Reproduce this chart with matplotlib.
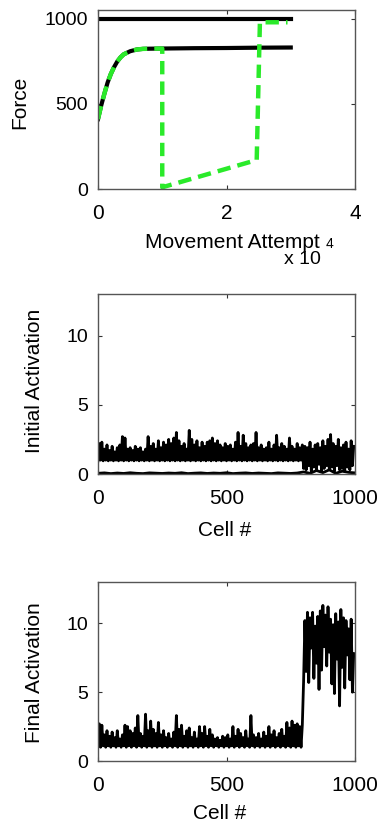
import numpy as np
import matplotlib
matplotlib.use("Agg")
import matplotlib.pyplot as plt

plt.rcParams['font.family'] = ['Liberation Sans', 'DejaVu Sans']

# panel 1: force vs movement attempt (x in units of 1e4)
curve_x = [0.0, 0.05, 0.1, 0.15, 0.2, 0.25, 0.3, 0.35, 0.4, 0.5, 0.6, 0.7, 0.8, 1.0, 1.5, 2.0, 2.5, 3.0]
curve_y = [410, 490, 560, 625, 675, 715, 748, 772, 790, 808, 818, 822, 823, 824, 826, 827, 829, 830]
ceiling_x = [0.0, 3.0]
ceiling_y = [1000, 1000]
green_x = [0.0, 0.05, 0.1, 0.15, 0.2, 0.25, 0.3, 0.35, 0.4, 0.5, 0.6, 0.7, 0.8, 1.0, 1.0, 2.47, 2.52, 2.95]
green_y = [410, 490, 560, 625, 675, 715, 748, 772, 790, 808, 818, 822, 823, 824, 10, 170, 978, 978]

# panel 2 and 3: activation per cell (sampled every 5 cells)
cells = np.arange(0, 1000, 5)
initial_upper = [
    0.95, 2.2, 1.0, 2.3, 0.95, 1.8, 1.0, 2.1, 0.95, 1.7,
    1.0, 2.0, 0.95, 1.6, 1.0, 1.9, 0.95, 2.1, 1.0, 2.7,
    0.95, 2.6, 1.0, 1.8, 0.95, 1.9, 1.0, 1.7, 0.95, 2.0,
    1.0, 1.8, 0.95, 1.9, 1.0, 1.6, 0.95, 1.8, 1.0, 2.7,
    0.95, 2.0, 1.0, 2.2, 0.95, 1.8, 1.0, 2.4, 0.95, 1.9,
    1.0, 2.3, 0.95, 2.1, 1.0, 2.5, 0.95, 2.2, 1.0, 2.6,
    0.95, 3.0, 1.0, 2.4, 0.95, 2.0, 1.0, 2.2, 0.95, 1.8,
    1.0, 3.15, 0.95, 2.5, 1.0, 2.1, 0.95, 2.4, 1.0, 1.9,
    0.95, 2.3, 1.0, 2.0, 0.95, 2.3, 1.0, 2.4, 0.95, 2.6,
    1.0, 2.2, 0.95, 2.4, 1.0, 2.1, 0.95, 1.9, 1.0, 2.2,
    0.95, 2.0, 1.0, 2.1, 0.95, 1.8, 1.0, 2.3, 0.95, 3.0,
    1.0, 2.0, 0.95, 2.8, 1.0, 2.2, 0.95, 1.9, 1.0, 2.1,
    0.95, 2.2, 1.0, 3.0, 0.95, 1.9, 1.0, 2.1, 0.95, 1.8,
    1.0, 1.9, 0.95, 2.3, 1.0, 1.8, 0.95, 2.1, 1.0, 2.8,
    0.95, 1.9, 1.0, 2.2, 0.95, 2.0, 1.0, 1.8, 0.95, 2.6,
    1.0, 2.0, 0.95, 1.8, 1.0, 2.2, 0.95, 1.9, 1.0, 2.1,
    0.4, 2.0, 0.3, 1.9, 0.6, 2.3, 0.2, 1.8, 0.5, 2.1,
    0.3, 2.2, 0.7, 1.9, 0.2, 2.4, 0.4, 2.0, 0.6, 2.5,
    0.3, 2.85, 0.5, 2.2, 0.2, 2.0, 0.6, 2.5, 0.3, 1.9,
    0.4, 2.1, 0.2, 2.3, 0.5, 1.8, 0.3, 2.4, 0.6, 2.0,
]
lower_cells = np.arange(0, 1001, 25)
initial_lower = [
    0.05, 0.08, 0.03, 0.07, 0.04, 0.09, 0.05, 0.03, 0.08, 0.06,
    0.04, 0.07, 0.05, 0.09, 0.03, 0.06, 0.08, 0.04, 0.07, 0.05,
    0.09, 0.03, 0.06, 0.08, 0.04, 0.07, 0.05, 0.03, 0.08, 0.06,
    0.04, 0.07, 0.15, 0.05, 0.25, 0.1, 0.3, 0.05, 0.2, 0.12, 0.08,
]
final_act = [
    1.1, 2.7, 1.0, 2.6, 1.1, 1.9, 1.0, 2.2, 1.1, 1.8,
    1.0, 2.1, 1.1, 1.7, 1.0, 2.2, 1.1, 1.6, 1.0, 1.9,
    1.1, 2.6, 1.0, 2.5, 1.1, 2.2, 1.0, 2.0, 1.1, 2.4,
    1.0, 3.3, 1.1, 2.0, 1.0, 1.8, 1.1, 3.4, 1.0, 2.2,
    1.1, 2.9, 1.0, 2.3, 1.1, 2.0, 1.0, 2.8, 1.1, 1.9,
    1.0, 2.2, 1.1, 1.7, 1.0, 2.0, 1.1, 1.6, 1.0, 2.1,
    1.1, 3.3, 1.0, 2.3, 1.1, 2.6, 1.0, 1.8, 1.1, 2.2,
    1.0, 2.4, 1.1, 1.7, 1.0, 2.1, 1.1, 1.6, 1.0, 2.5,
    1.1, 2.0, 1.0, 2.5, 1.1, 1.8, 1.0, 2.3, 1.1, 1.9,
    1.0, 1.6, 1.1, 1.7, 1.0, 1.5, 1.1, 1.8, 1.0, 1.7,
    1.1, 1.9, 1.0, 1.6, 1.1, 2.5, 1.0, 1.8, 1.1, 2.3,
    1.0, 2.0, 1.1, 1.7, 1.0, 2.2, 1.1, 1.6, 1.0, 3.3,
    1.1, 1.9, 1.0, 1.7, 1.1, 2.0, 1.0, 1.6, 1.1, 2.1,
    1.0, 1.8, 1.1, 2.5, 1.0, 1.9, 1.1, 2.2, 1.0, 1.7,
    1.1, 2.0, 1.0, 2.3, 1.1, 1.8, 1.0, 2.8, 1.1, 2.4,
    1.0, 2.9, 1.1, 2.6, 1.0, 2.7, 1.1, 2.5, 1.0, 2.6,
    5.8, 10.2, 6.5, 10.8, 5.7, 10.4, 8.2, 10.8, 6.0, 9.8,
    7.1, 10.5, 5.2, 10.9, 6.6, 11.3, 8.3, 10.6, 6.9, 11.2,
    7.9, 10.3, 5.6, 9.9, 4.9, 10.7, 7.4, 10.1, 4.0, 11.0,
    6.8, 10.4, 5.3, 10.2, 7.7, 9.6, 5.9, 10.3, 5.0, 7.8,
]

W, H = 377, 822
fig = plt.figure(figsize=(W / 100, H / 100), dpi=100)


def make_axes(top, bottom):
    ax = fig.add_axes([98 / W, 1 - bottom / H, 257 / W, (bottom - top) / H])
    for s in ax.spines.values():
        s.set_color('#555555')
        s.set_linewidth(1.0)
    ax.tick_params(direction='in', length=3, width=0.8, color='#333333',
                   top=True, right=True)
    ax.tick_params(axis='x', labelsize=15, pad=11)
    ax.tick_params(axis='y', labelsize=14, pad=7)
    return ax


# force panel
ax1 = make_axes(10, 189)
ax1.plot(np.array(ceiling_x) * 1e4, ceiling_y, color='black', lw=3)
ax1.plot(np.array(curve_x) * 1e4, curve_y, color='black', lw=3)
ax1.plot(np.array(green_x) * 1e4, green_y, color='#2aea2a', lw=3.2,
         dashes=(3, 1.6))
ax1.set_xlim(0, 4e4)
ax1.set_ylim(0, 1050)
ax1.set_xticks([0, 2e4, 4e4])
ax1.set_xticklabels(['0', '2', '4'])
ax1.set_yticks([0, 500, 1000])

fig.text(20 / W, 1 - 102 / H, 'Force', rotation=90, ha='center', va='center', fontsize=15)
fig.text(232 / W, 1 - 242 / H, 'Movement Attempt', ha='center', va='center', fontsize=15)
fig.text(302 / W, 1 - 259 / H, 'x 10', ha='center', va='center', fontsize=14)
fig.text(329 / W, 1 - 244 / H, '4', ha='center', va='center', fontsize=10)

# initial activation
ax2 = make_axes(294, 474)
ax2.plot(cells, initial_upper, color='black', lw=2.0)
ax2.plot(lower_cells, initial_lower, color='black', lw=2.0)
ax2.set_xlim(0, 1000)
ax2.set_ylim(0, 13)
ax2.set_xticks([0, 500, 1000])
ax2.set_yticks([0, 5, 10])
fig.text(35 / W, 1 - 381 / H, 'Initial Activation', rotation=90, ha='center', va='center', fontsize=15)
fig.text(225 / W, 1 - 530 / H, 'Cell #', ha='center', va='center', fontsize=15)

# final activation
ax3 = make_axes(582, 761)
ax3.plot(cells, final_act, color='black', lw=2.0)
ax3.set_xlim(0, 1000)
ax3.set_ylim(0, 13)
ax3.set_xticks([0, 500, 1000])
ax3.set_yticks([0, 5, 10])
fig.text(35 / W, 1 - 673 / H, 'Final Activation', rotation=90, ha='center', va='center', fontsize=15)
fig.text(220 / W, 1 - 813 / H, 'Cell #', ha='center', va='center', fontsize=15)

fig.savefig('out.png', dpi=100)
